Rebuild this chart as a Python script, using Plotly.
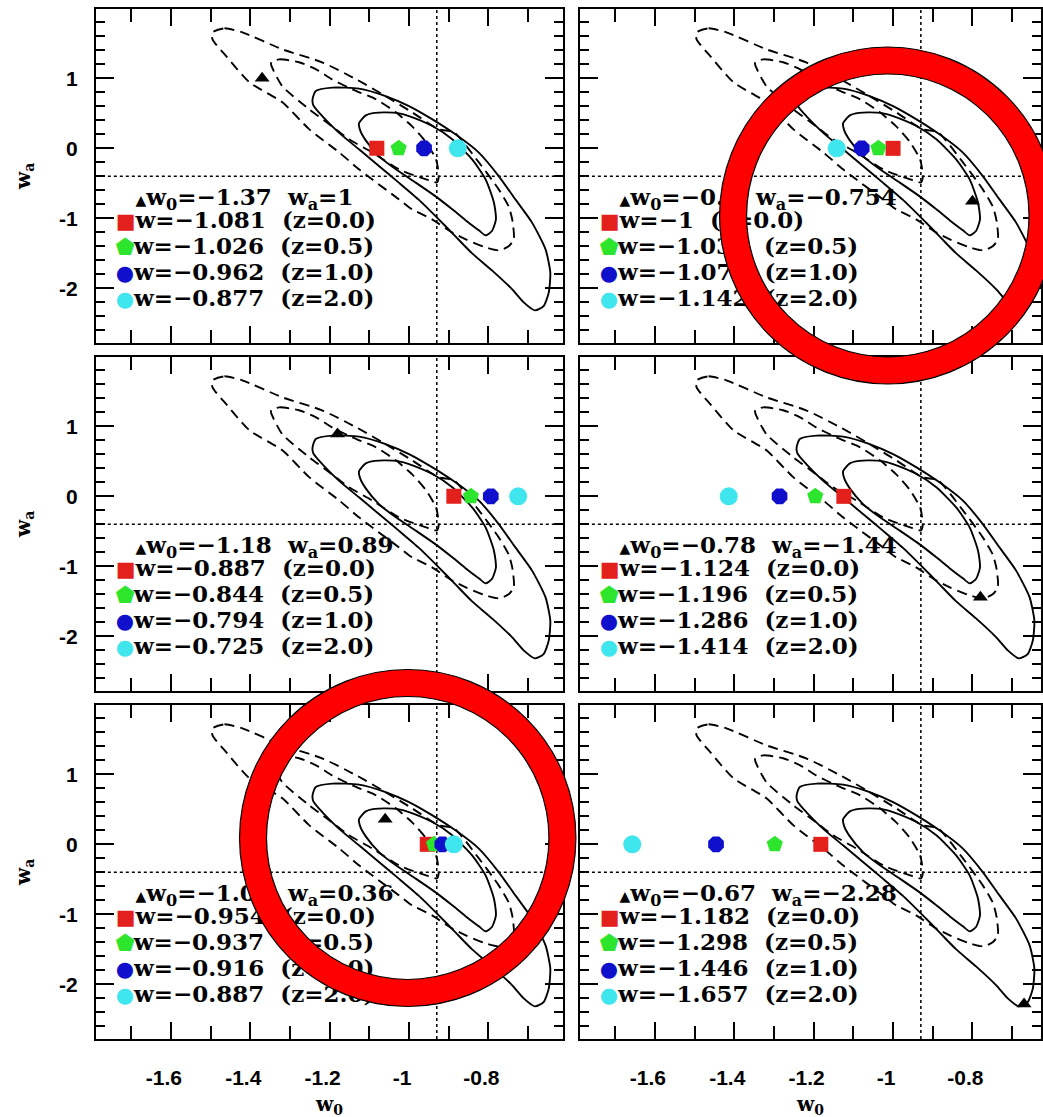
import plotly.graph_objects as go

# ---------------------------------------------------------------
# Confidence contours in the (w0, wa) plane (same in every panel)
# ---------------------------------------------------------------
SOLID_INNER_W0 = [-1.126, -1.109, -1.086, -1.059, -1.025, -1.000, -0.941, -0.891, -0.841, -0.807,
                  -0.786, -0.781, -0.791, -0.807, -0.824, -0.857, -0.891, -0.933, -0.983, -1.033,
                  -1.075, -1.109, -1.123]
SOLID_INNER_WA = [0.357, 0.471, 0.507, 0.514, 0.500, 0.461, 0.319, 0.129, -0.157, -0.443,
                  -0.776, -1.014, -1.181, -1.243, -1.171, -1.029, -0.871, -0.686, -0.490, -0.300,
                  -0.114, 0.114, 0.257]

SOLID_OUTER_W0 = [-1.243, -1.235, -1.193, -1.126, -1.059, -1.000, -0.941, -0.883, -0.824, -0.774,
                  -0.732, -0.690, -0.656, -0.644, -0.648, -0.661, -0.683, -0.711, -0.740, -0.791,
                  -0.841, -0.883, -0.925, -0.975, -1.025, -1.075, -1.126, -1.176, -1.218, -1.241]
SOLID_OUTER_WA = [0.700, 0.819, 0.867, 0.853, 0.747, 0.604, 0.414, 0.200, -0.061, -0.396,
                  -0.729, -1.061, -1.443, -1.776, -2.061, -2.253, -2.314, -2.200, -2.014, -1.743,
                  -1.500, -1.257, -1.014, -0.736, -0.493, -0.257, -0.014, 0.221, 0.457, 0.614]

DASHED_OUTER_W0 = [-1.495, -1.465, -1.420, -1.319, -1.219, -1.133, -1.058, -0.992, -0.925, -0.887,
                   -0.824, -0.774, -0.749, -0.739, -0.736, -0.749, -0.774, -0.807, -0.857, -0.892,
                   -0.942, -0.992, -1.025, -1.093, -1.126, -1.176, -1.251, -1.319, -1.402, -1.460,
                   -1.495]
DASHED_OUTER_WA = [1.657, 1.714, 1.657, 1.414, 1.229, 0.986, 0.743, 0.514, 0.271, 0.229,
                   -0.200, -0.586, -0.829, -1.043, -1.300, -1.400, -1.457, -1.414, -1.300, -1.200,
                   -1.014, -0.871, -0.729, -0.443, -0.300, -0.057, 0.271, 0.657, 0.943, 1.314,
                   1.557]

DASHED_INNER_W0 = [-1.347, -1.327, -1.277, -1.234, -1.194, -1.143, -1.083, -1.033, -0.992, -0.957,
                   -0.932, -0.925, -0.930, -0.957, -1.025, -1.093, -1.151, -1.194, -1.251, -1.319, -1.347]
DASHED_INNER_WA = [1.229, 1.271, 1.229, 1.129, 0.986, 0.843, 0.700, 0.514, 0.314, 0.086,
                   -0.157, -0.400, -0.486, -0.443, -0.300, -0.057, 0.129, 0.314, 0.557, 0.886, 1.186]

# ---------------------------------------------------------------
# Input (w0, wa) model of each panel and the best-fit constant w
# at each redshift (plotted on the wa = 0 line)
# ---------------------------------------------------------------
MODEL_W0 = [-1.37, -0.8, -1.18, -0.78, -1.06, -0.67]
MODEL_WA = [1, -0.754, 0.89, -1.44, 0.36, -2.28]
W_Z00 = [-1.081, -1.0, -0.887, -1.124, -0.954, -1.182]
W_Z05 = [-1.026, -1.037, -0.844, -1.196, -0.937, -1.298]
W_Z10 = [-0.962, -1.079, -0.794, -1.286, -0.916, -1.446]
W_Z20 = [-0.877, -1.142, -0.725, -1.414, -0.887, -1.657]
Z_LABELS = ["0.0", "0.5", "1.0", "2.0"]
CONST_W_WA = 0.0

FIDUCIAL_W0 = -0.93
FIDUCIAL_WA = -0.4

X_TICKVALS = [-1.6, -1.4, -1.2, -1.0, -0.8]
X_TICKTEXT = ["-1.6", "-1.4", "-1.2", "-1", "-0.8"]
Y_TICKVALS = [-2, -1, 0, 1]
Y_TICKTEXT = ["-2", "-1", "0", "1"]

# ---------------------------------------------------------------
# Page geometry (pixels)
# ---------------------------------------------------------------
W, H = 1043, 1117
COL_LEFT = [96, 581]
COL_RIGHT = [564, 1043]
ROW_TOP = [9, 357, 705]
PANEL_H = 334
X_MIN = -1.789
PX_PER_UNIT_X = 397.7
Y_RANGE = [-2.78, 1.99]

Z_COLORS = ["#e3201b", "#2ee52e", "#1010cc", "#3fe6ee"]
Z_SYMBOLS = ["square", "pentagon", "octagon", "circle"]
Z_SIZES = [15, 17, 17, 18]
Z_GLYPHS = ["\u25a0", "\u2b1f", "\u25cf", "\u25cf"]

# key placement (data units of each panel)
KEY_MODEL_W0 = -1.689
KEY_CONST_W0 = -1.739
KEY_ROWS_WA = [-0.73, -1.06, -1.43, -1.80, -2.17]

SERIF = "DejaVu Serif"
SANS = "Liberation Sans"
NB = "\u00a0"


def fmt(v):
    return f"{v:g}".replace("-", "\u2212")


def closed(seq):
    return list(seq) + [seq[0]]


fig = go.Figure()
layout = dict(
    width=W, height=H,
    margin=dict(l=0, r=0, t=0, b=0),
    paper_bgcolor="white", plot_bgcolor="white",
    showlegend=False,
    shapes=[], annotations=[],
)

contours = [
    (SOLID_INNER_W0, SOLID_INNER_WA, "solid"),
    (SOLID_OUTER_W0, SOLID_OUTER_WA, "solid"),
    (DASHED_INNER_W0, DASHED_INNER_WA, "10px,6px"),
    (DASHED_OUTER_W0, DASHED_OUTER_WA, "10px,6px"),
]

w_by_z = [W_Z00, W_Z05, W_Z10, W_Z20]
key_font = dict(family=SERIF, size=23, color="black", weight="bold")

for p in range(6):
    row, col = divmod(p, 2)
    suffix = "" if p == 0 else str(p + 1)
    xa, ya = f"x{suffix}", f"y{suffix}"
    xkey, ykey = f"xaxis{suffix}", f"yaxis{suffix}"

    left, right = COL_LEFT[col], COL_RIGHT[col]
    top = ROW_TOP[row]
    bottom = top + PANEL_H
    x_max = X_MIN + (right - left) / PX_PER_UNIT_X

    common = dict(
        showline=True, linecolor="black", linewidth=2, mirror="allticks",
        ticks="inside", tickcolor="black", tickwidth=1.6,
        showgrid=False, zeroline=False,
        tickfont=dict(family=SANS, size=21, color="black", weight="bold"),
    )
    layout[xkey] = dict(
        common,
        domain=[left / W, right / W], range=[X_MIN, x_max], anchor=ya,
        tickmode="array", tickvals=X_TICKVALS, ticktext=X_TICKTEXT, ticklen=17,
        minor=dict(dtick=0.1, tick0=0, ticks="inside", ticklen=13, tickcolor="black", tickwidth=1.6),
        showticklabels=(row == 2), ticklabelstandoff=19, ticklabelshift=-7,
    )
    layout[ykey] = dict(
        common,
        domain=[1 - bottom / H, 1 - top / H], range=Y_RANGE, anchor=xa,
        tickmode="array", tickvals=Y_TICKVALS, ticktext=Y_TICKTEXT, ticklen=18,
        minor=dict(dtick=0.2, tick0=0, ticks="inside", ticklen=9, tickcolor="black", tickwidth=1.6),
        showticklabels=(col == 0), ticklabelstandoff=12,
    )

    # fiducial cross-hair
    layout["shapes"].append(dict(type="line", xref=xa, yref=f"{ya} domain",
                                 x0=FIDUCIAL_W0, x1=FIDUCIAL_W0, y0=0, y1=1, layer="below",
                                 line=dict(color="black", width=1.5, dash="3px,3px")))
    layout["shapes"].append(dict(type="line", xref=f"{xa} domain", yref=ya,
                                 x0=0, x1=1, y0=FIDUCIAL_WA, y1=FIDUCIAL_WA, layer="below",
                                 line=dict(color="black", width=1.5, dash="3px,3px")))

    # contours
    for cx, cy, dash in contours:
        fig.add_trace(go.Scatter(
            x=closed(cx), y=closed(cy), mode="lines", xaxis=xa, yaxis=ya,
            line=dict(color="black", width=1.9, dash=dash, shape="spline", smoothing=0.6),
            hoverinfo="skip"))

    # input model
    fig.add_trace(go.Scatter(
        x=[MODEL_W0[p]], y=[MODEL_WA[p]], mode="markers", xaxis=xa, yaxis=ya,
        marker=dict(symbol="triangle-up", size=13, color="black", opacity=1)))

    # best-fit constant w at each redshift
    fig.add_trace(go.Scatter(
        x=[w[p] for w in w_by_z], y=[CONST_W_WA] * len(w_by_z), mode="markers", xaxis=xa, yaxis=ya,
        marker=dict(symbol=Z_SYMBOLS, size=Z_SIZES, color=Z_COLORS, opacity=1, line=dict(width=0))))

    # key: input model line
    model_line = (f"<span style='font-size:14px'>\u25b2</span>w<sub>0</sub>={fmt(MODEL_W0[p])}{NB*2}"
                  f"w<sub>a</sub>={fmt(MODEL_WA[p])}")
    fig.add_trace(go.Scatter(
        x=[KEY_MODEL_W0], y=KEY_ROWS_WA[:1], mode="text", xaxis=xa, yaxis=ya,
        text=[model_line], textposition="middle right", textfont=key_font, hoverinfo="skip"))

    # key: constant-w lines
    const_lines = [
        f"<span style='color:{Z_COLORS[k]};font-size:21px'>{Z_GLYPHS[k]}</span>"
        f"w={fmt(w_by_z[k][p])}{NB*2}(z={z})"
        for k, z in enumerate(Z_LABELS)
    ]
    fig.add_trace(go.Scatter(
        x=[KEY_CONST_W0] * len(const_lines), y=KEY_ROWS_WA[1:], mode="text", xaxis=xa, yaxis=ya,
        text=const_lines, textposition="middle right", textfont=key_font, hoverinfo="skip"))

    # axis titles
    if row == 2:
        layout["annotations"].append(dict(
            text="w<sub>0</sub>", xref="paper", yref="paper",
            x=(left + right) / 2 / W, y=1 - 1105 / H, xanchor="center", yanchor="middle",
            showarrow=False, font=dict(family=SERIF, size=20, color="black", weight="bold")))
    if col == 0:
        layout["annotations"].append(dict(
            text="w<sub>a</sub>", xref="paper", yref="paper", textangle=-90,
            x=24 / W, y=1 - (top + PANEL_H / 2) / H, xanchor="center", yanchor="middle",
            showarrow=False, font=dict(family=SERIF, size=20, color="black", weight="bold")))

# highlight rings
RINGS = [(889.5, 215.5), (408.5, 838.0)]
R_OUT, R_IN = 168.5, 141.5
for cxp, cyp in RINGS:
    r_mid = (R_OUT + R_IN) / 2
    for r, color, width in [(r_mid, "#ff0000", R_OUT - R_IN), (R_OUT, "black", 1.2), (R_IN, "black", 1.2)]:
        layout["shapes"].append(dict(
            type="circle", xref="paper", yref="paper", layer="above",
            x0=(cxp - r) / W, x1=(cxp + r) / W, y0=1 - (cyp + r) / H, y1=1 - (cyp - r) / H,
            line=dict(color=color, width=width)))

fig.update_layout(**layout)
fig.write_html("out.html", config={"displayModeBar": False})
